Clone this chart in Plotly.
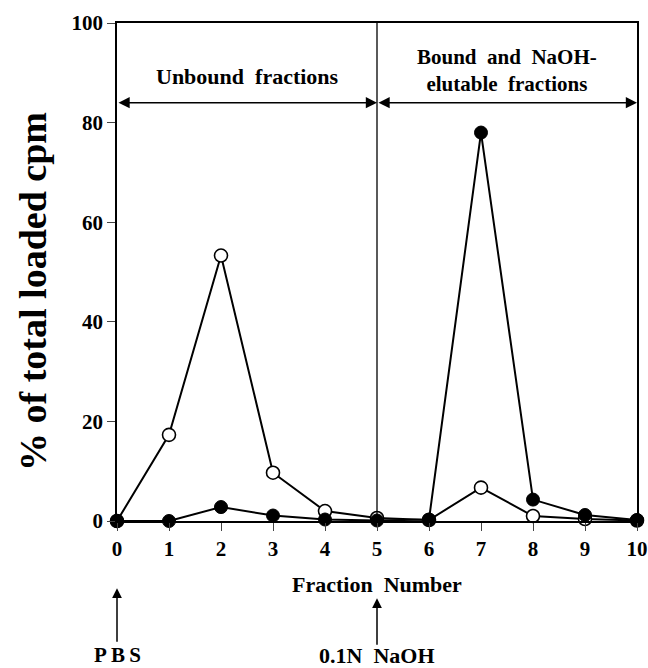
import plotly.graph_objects as go

fractions = [0, 1, 2, 3, 4, 5, 6, 7, 8, 9, 10]
open_vals = [0, 17.3, 53.3, 9.7, 2.0, 0.6, 0.2, 6.7, 1.0, 0.4, 0.1]
filled_vals = [0, 0, 2.8, 1.1, 0.3, 0.1, 0.3, 78.0, 4.3, 1.2, 0.2]
xticks = [0, 1, 2, 3, 4, 5, 6, 7, 8, 9, 10]
yticks = [0, 20, 40, 60, 80, 100]

FONT = "Liberation Serif"

fig = go.Figure()
fig.add_trace(go.Scatter(
    x=fractions, y=open_vals, mode="lines+markers",
    line=dict(color="black", width=2),
    marker=dict(symbol="circle", size=13, color="white", line=dict(color="black", width=1.6)),
    cliponaxis=False, showlegend=False))
fig.add_trace(go.Scatter(
    x=fractions, y=filled_vals, mode="lines+markers",
    line=dict(color="black", width=2),
    marker=dict(symbol="circle", size=13, color="black", line=dict(color="black", width=1)),
    cliponaxis=False, showlegend=False))

# divider at fraction 5
fig.add_shape(type="line", x0=5, x1=5, y0=0, y1=100, xref="x", yref="y",
              line=dict(color="black", width=1.3))

# double-headed arrows
for x0, x1 in [(0, 5), (5, 10)]:
    fig.add_annotation(x=x1, y=84, ax=x0, ay=84, xref="x", yref="y", axref="x", ayref="y",
                       text="", showarrow=True, arrowhead=2, startarrowhead=2, arrowside="end+start",
                       arrowsize=1.4, startarrowsize=1.4, arrowwidth=1.6, arrowcolor="black")

def label(text, x, y, size, xref="x", yref="y", angle=0):
    fig.add_annotation(x=x, y=y, xref=xref, yref=yref, text=text, textangle=angle,
                       xanchor="center", yanchor="middle", showarrow=False,
                       font=dict(family=FONT, size=size, color="black"))

label("<b>Unbound  fractions</b>", 2.5, 89.2, 22)
label("<b>Bound  and  NaOH-<br>elutable  fractions</b>", 7.5, 90.4, 21)

# axis titles
label("<b>Fraction  Number</b>", 5, -0.1285, 22, yref="paper")
label("<b>% of total loaded cpm</b>", -0.1615, 0.46, 38, xref="paper", yref="paper", angle=-90)

# bottom labels with arrows
label("<b>P\u2009B\u2009S</b>", 0, -0.27, 21, yref="paper")
label("<b>0.1N  NaOH</b>", 5, -0.27, 22, yref="paper")
fig.add_annotation(x=0, y=-0.135, xref="x", yref="paper", ax=0, ay=55, text="",
                   showarrow=True, arrowhead=2, arrowsize=1.3, arrowwidth=1.5, arrowcolor="black")
fig.add_annotation(x=5, y=-0.155, xref="x", yref="paper", ax=0, ay=48, text="",
                   showarrow=True, arrowhead=2, arrowsize=1.3, arrowwidth=1.5, arrowcolor="black")

fig.update_xaxes(range=[0, 10], tickvals=xticks, ticks="outside", ticklen=8, tickwidth=1.3,
                 showline=True, linecolor="black", linewidth=1.5, mirror=True,
                 showgrid=False, zeroline=False, automargin=False,
                 tickfont=dict(family=FONT, size=21, color="black", weight="bold"))
fig.update_yaxes(range=[0, 100], tickvals=yticks, ticks="outside", ticklen=8, tickwidth=1.3,
                 showline=True, linecolor="black", linewidth=1.5, mirror=True,
                 showgrid=False, zeroline=False, automargin=False,
                 tickfont=dict(family=FONT, size=21, color="black", weight="bold"))

fig.update_layout(width=648, height=668, margin=dict(l=117, r=11, t=23, b=147),
                  plot_bgcolor="white", paper_bgcolor="white")

fig.write_html("out.html", config={"displayModeBar": False},
               post_script="document.body.style.margin='0';document.body.style.overflow='hidden';")
